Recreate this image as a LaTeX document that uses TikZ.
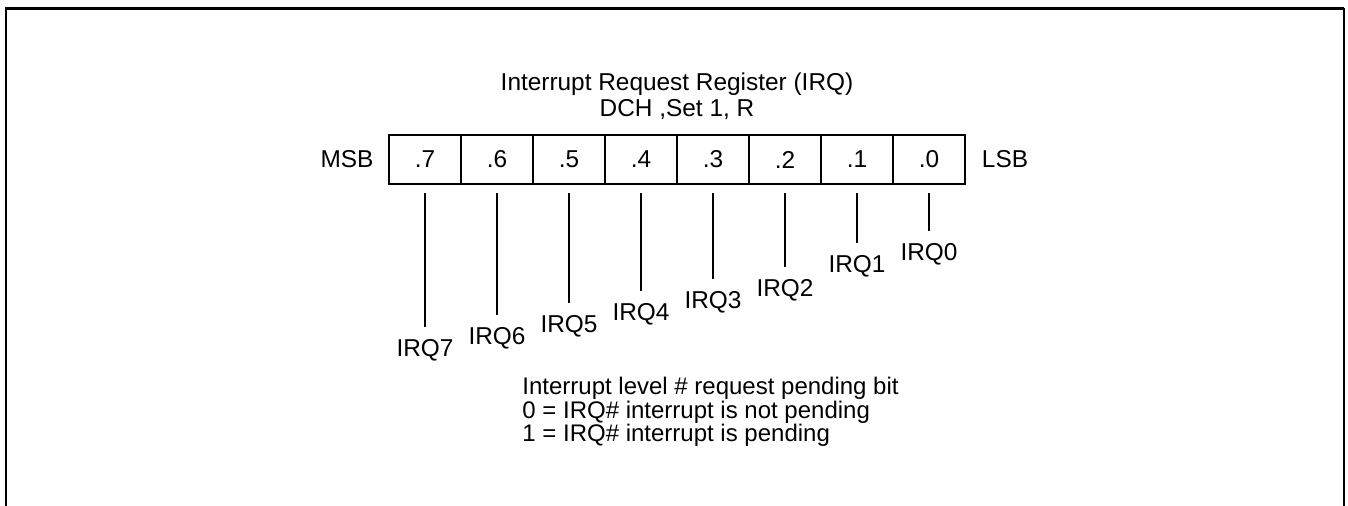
\documentclass[tikz,border=0pt]{standalone}
\usepackage{fontspec}
\setmainfont{Liberation Sans}
\usepackage{tikz}
\usetikzlibrary{positioning}

\begin{document}
\begin{tikzpicture}[x=0.5pt, y=-0.5pt,
  every node/.style={font=\fontsize{12.2}{13}\selectfont},
  cell/.style={rectangle, draw, line width=0.8pt, minimum width=36pt,
               minimum height=24.5pt, inner sep=0pt},
  irq/.style={inner sep=0pt},
  lead/.style={line width=0.8pt, shorten <=4pt, shorten >=6pt},
  frame/.style={line width=1.3pt},
]
\useasboundingbox (0,0) rectangle (1348,506);

% frame, open at the bottom
\draw[frame] (6,506) -- (6,8.5) -- (1344,8.5);
\draw[line width=0.9pt] (1344,8.5) -- (1344,506);

\node[align=center] (title) at (677,96) {Interrupt Request Register (IRQ)\\DCH ,Set 1, R};

\node (msb) at (347,159.5) {MSB};
\node[cell] (b7) at (425,159.5) {.7};
\node[cell] (b6) at (497,159.5) {.6};
\node[cell] (b5) at (569,159.5) {.5};
\node[cell] (b4) at (641,159.5) {.4};
\node[cell] (b3) at (713,159.5) {.3};
\node[cell] (b2) at (785,159.5) {.2};
\node[cell] (b1) at (857,159.5) {.1};
\node[cell] (b0) at (929,159.5) {.0};
\node (lsb) at (1005,159.5) {LSB};

\node[irq] (q7) at (425,350) {IRQ7};
\node[irq] (q6) at (497,338) {IRQ6};
\node[irq] (q5) at (569,326) {IRQ5};
\node[irq] (q4) at (641,314) {IRQ4};
\node[irq] (q3) at (713,302) {IRQ3};
\node[irq] (q2) at (785,290) {IRQ2};
\node[irq] (q1) at (857,266) {IRQ1};
\node[irq] (q0) at (929,254) {IRQ0};

\draw[lead] (b7) -- (q7);
\draw[lead] (b6) -- (q6);
\draw[lead] (b5) -- (q5);
\draw[lead] (b4) -- (q4);
\draw[lead] (b3) -- (q3);
\draw[lead] (b2) -- (q2);
\draw[lead] (b1) -- (q1);
\draw[lead] (b0) -- (q0);

\node[align=left, anchor=west, inner sep=0pt,
      font=\fontsize{12}{11.75}\selectfont] (note) at (522,412)
  {Interrupt level \# request pending bit\\
   0 = IRQ\# interrupt is not pending\\
   1 = IRQ\# interrupt is pending};

\end{tikzpicture}
\end{document}
